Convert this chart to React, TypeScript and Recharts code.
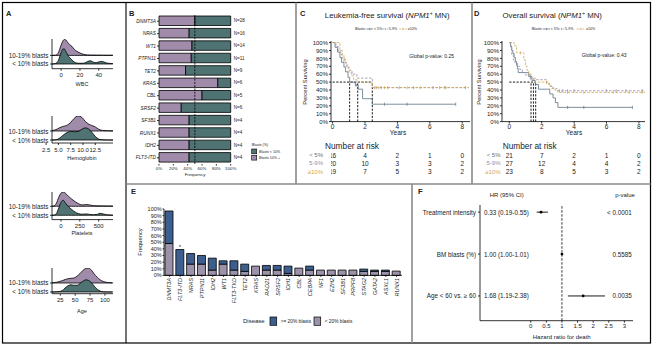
import React from 'react';
import {
  ComposedChart, Area, Line, Scatter, Bar, BarChart, XAxis, YAxis,
  ReferenceLine, LabelList,
} from 'recharts';

const FONT = '"Liberation Sans", Arial, Helvetica, sans-serif';
const INK = '#222';
const A_PURPLE = '#a08bab';
const A_TEAL = '#4e7372';
const KM_LT5 = '#5b7282';
const KM_MID = '#968dae';
const KM_HIGH = '#d1a94f';
const E_BLUE = '#3d5f8f';
const E_PURPLE = '#9d92ab';

// ---------------- Panel A data (ridgelines) ----------------
const ridgeRows = ['< 10% blasts', '10-19% blasts'];

const wbcX = [-9.7, -6, -3, 0, 2, 3.5, 5, 7, 9, 11.5, 14, 17, 20, 24, 28, 31, 33, 36, 39, 42, 45, 49, 55];
const wbcHigh = [0, 0.02, 0.3, 1.2, 1.7, 1.86, 1.8, 1.5, 1.25, 1.05, 0.7, 0.45, 0.28, 0.12, 0.05, 0.04, 0.04, 0.03, 0.03, 0.03, 0.02, 0.02, 0.02];
const wbcLow = [0, 0.06, 0.4, 1.3, 1.75, 1.74, 1.45, 1.05, 0.75, 0.45, 0.22, 0.1, 0.08, 0.09, 0.28, 0.38, 0.3, 0.15, 0.2, 0.3, 0.25, 0.1, 0.05];
const wbcTicks = [0, 20, 40];

const hbX = [3.7, 4.5, 5.2, 6, 6.8, 7.5, 8.2, 9, 9.8, 10.5, 11.2, 11.8, 12.5, 13.2, 14, 15, 16.1];
const hbHigh = [0.05, 0.15, 0.35, 0.52, 0.65, 0.95, 1.4, 1.67, 1.5, 1.05, 0.75, 0.62, 0.45, 0.2, 0.06, 0.03, 0.02];
const hbLow = [0, 0.02, 0.2, 0.55, 0.85, 0.95, 0.92, 0.95, 1.2, 1.35, 1.2, 0.85, 0.4, 0.1, 0.02, 0, 0];
const hbTicks = [2.5, 5, 7.5, 10, 12.5];

const pltX = [-119, -90, -60, -30, 0, 30, 60, 100, 142, 190, 230, 280, 340, 380, 430, 480, 520, 560, 620, 690];
const pltHigh = [0.01, 0.05, 0.35, 1.0, 1.45, 1.59, 1.45, 1.1, 0.8, 0.5, 0.3, 0.15, 0.2, 0.15, 0.07, 0.05, 0.05, 0.04, 0.04, 0.03];
const pltLow = [0, 0.03, 0.2, 0.8, 1.45, 1.67, 1.35, 0.95, 0.65, 0.35, 0.19, 0.12, 0.15, 0.1, 0.07, 0.1, 0.22, 0.15, 0.05, 0.02];
const pltTicks = [0, 250, 500];

const ageX = [11, 20, 28, 33, 38, 43, 48, 53, 58, 63, 68, 72, 77, 82, 87, 92, 97, 105, 113];
const ageHigh = [0.02, 0.1, 0.25, 0.38, 0.48, 0.52, 0.55, 0.75, 1.05, 1.4, 1.62, 1.67, 1.45, 1.0, 0.65, 0.35, 0.18, 0.05, 0.02];
const ageLow = [0, 0.02, 0.15, 0.45, 0.7, 0.8, 0.75, 0.75, 0.95, 1.2, 1.35, 1.3, 1.05, 0.65, 0.3, 0.1, 0.02, 0, 0];
const ageTicks = [25, 50, 75, 100];

// ---------------- Panel B data ----------------
const bGenes = ['DNMT3A', 'NRAS', 'WT1', 'PTPN11', 'TET2', 'KRAS', 'CBL', 'SRSF2', 'SF3B1', 'RUNX1', 'IDH2', 'FLT3-ITD'];
const bN = [28, 16, 14, 11, 9, 6, 5, 6, 4, 4, 4, 4];
const bHigh = [0.5, 0.42, 0.46, 0.45, 0.37, 0.82, 0.6, 0.31, 0.42, 0.42, 0.42, 0.42];
const bLow = [0.5, 0.58, 0.54, 0.55, 0.63, 0.18, 0.4, 0.69, 0.58, 0.58, 0.58, 0.58];
const bTicks = [0, 0.2, 0.4, 0.6, 0.8, 1];

// ---------------- Panels C / D data (Kaplan-Meier) ----------------
const kmYTicks = [0, 10, 20, 30, 40, 50, 60, 70, 80, 90, 100];
const kmXTicks = [0, 2, 4, 6, 8];
const riskTimes = [0, 2, 4, 6, 8];
const riskLabels = ['< 5%', '5-9%', '≥10%'];

const cLt5T = [0, 0.15, 0.3, 0.45, 0.55, 0.7, 0.8, 0.95, 1.05, 1.4, 1.58, 1.85, 2.45, 7.6];
const cLt5S = [100, 94, 88, 81, 75, 69, 63, 56, 50, 46, 41, 29, 22, 22];
const cLt5Cens = [1.45, 3.2, 4.6, 7.6];
const cMidT = [0, 0.2, 0.35, 0.5, 0.6, 0.7, 0.85, 1.0, 1.2, 1.5, 2.45, 8.4];
const cMidS = [100, 95, 90, 85, 80, 75, 70, 65, 60, 55, 43, 43];
const cMidCens = [2.6, 3.0, 3.4, 4.1, 5.0, 6.2, 7.0, 8.2];
const cHighT = [0, 0.45, 0.6, 0.7, 0.8, 0.9, 1.0, 1.15, 1.3, 1.5, 2.45, 8.4];
const cHighS = [100, 90, 84, 79, 74, 68, 63, 58, 53, 50, 43, 43];
const cHighCens = [0.75, 2.7, 2.85, 3.2, 4.6, 5.4, 6.6, 6.9];
const cMedians = [1.05, 1.55, 2.45];
const cRiskLt5 = [16, 4, 2, 1, 0];
const cRiskMid = [20, 10, 3, 3, 2];
const cRiskHigh = [19, 7, 5, 3, 2];

const dLt5T = [0, 0.08, 0.15, 0.22, 0.3, 0.38, 0.45, 0.5, 0.55, 1.2, 1.4, 1.6, 1.8, 2.5, 2.7, 2.85, 3.0, 7.6];
const dLt5S = [100, 95, 90, 86, 81, 76, 71, 67, 62, 57, 52, 47, 41, 35, 30, 24, 18, 18];
const dLt5Cens = [3.6, 4.6, 7.6];
const dMidT = [0, 0.1, 0.15, 0.25, 0.35, 0.5, 0.65, 0.8, 1.0, 1.3, 1.5, 2.3, 2.5, 2.7, 2.95, 8.4];
const dMidS = [100, 93, 85, 78, 74, 70, 66, 62, 59, 55, 53, 48, 45, 42, 39, 39];
const dMidCens = [1.3, 3.1, 3.3, 3.6, 4.0, 6.0, 6.6, 7.2, 8.2];
const dHighT = [0, 0.3, 0.45, 0.9, 1.0, 1.1, 1.2, 1.35, 1.6, 2.45, 2.6, 2.8, 3.0, 8.4];
const dHighS = [100, 96, 87, 78, 70, 65, 60, 55, 50, 45, 42, 40, 37, 37];
const dHighCens = [0.7, 2.3, 3.6, 4.6, 6.4, 7.4, 8.2];
const dMedians = [1.34, 1.49, 1.63];
const dRiskLt5 = [21, 7, 2, 1, 0];
const dRiskMid = [27, 12, 4, 4, 2];
const dRiskHigh = [23, 8, 5, 3, 2];

// ---------------- Panel E data ----------------
const eGenes = ['DNMT3A', 'FLT3-ITD', 'NRAS', 'PTPN11', 'IDH2', 'WT1', 'FLT3-TKD', 'TET2', 'KRAS', 'RAD21', 'SRSF2', 'IDH1', 'CBL', 'CEBPA', 'NF1', 'EZH2', 'SF3B1', 'PRPF8', 'STAG2', 'GATA2', 'ASXL1', 'RUNX1'];
const eLt20 = [48, 0, 17, 17, 8, 17, 8, 6, 14, 8, 8, 3, 11, 8, 8, 8, 8, 8, 6, 6, 6, 6.5];
const eGe20 = [49, 39, 16, 13, 18, 5, 14, 11, 0, 7, 7, 11, 0, 6, 0, 0, 0, 0, 3.5, 2, 2, 0];
const eSig = ['', '*', '', '', '', '', '', '', '', '', '', '', '', '', '', '', '', '', '', '', '', ''];
const eTicks = [0, 10, 20, 30, 40, 50, 60, 70, 80, 90, 100];

// ---------------- Panel F data ----------------
const fVars = ['Treatment intensity', 'BM blasts (%)', 'Age < 60 vs. ≥ 60'];
const fHR = [0.33, 1.0, 1.68];
const fLo = [0.19, 1.0, 1.19];
const fHi = [0.55, 1.01, 2.38];
const fHRText = ['0.33 (0.19-0.55)', '1.00 (1.00-1.01)', '1.68 (1.19-2.38)'];
const fP = ['< 0.0001', '0.5585', '0.0035'];
const fTicks = [0, 0.5, 1, 1.5, 2, 2.5, 3];

const axisStroke = { stroke: '#000', strokeWidth: 0.8 };

// ---------------- Components ----------------
const RidgeTick = (p: any) => (
  <text x={p.x} y={p.y} textAnchor="end" dominantBaseline="central" fontSize={6.3} fill={INK} fontFamily={FONT}>
    {ridgeRows[p.payload.value]}
  </text>
);

function Ridge(props: any) {
  const { top, plotH, yDomain, xDomain, ticks, fmt, xs, hi, lo } = props;
  const data = xs.map((x: number, i: number) => ({ x, hi: [1, 1 + hi[i]], lo: [0, lo[i]] }));
  const H = plotH + 14;
  return (
    <div style={{ position: 'absolute', left: 0, top, width: 114, height: H }}>
      <ComposedChart width={114} height={H} data={data} margin={{ top: 0, right: 1, left: 0, bottom: 0 }}>
        <XAxis dataKey="x" type="number" domain={xDomain} allowDataOverflow ticks={ticks} interval={0}
          tickFormatter={fmt} height={14} tickSize={2} tickMargin={2.5}
          tick={{ fontSize: 6, fill: INK, fontFamily: FONT }} axisLine={axisStroke} tickLine={axisStroke} />
        <YAxis type="number" domain={yDomain} allowDataOverflow ticks={[0, 1]} interval={0}
          width={52} tickSize={2} tickMargin={1.5}
          tick={RidgeTick} axisLine={axisStroke} tickLine={axisStroke} />
        <Area type="monotone" dataKey="hi" stroke="#000" strokeWidth={0.8} fill={A_PURPLE} fillOpacity={1}
          isAnimationActive={false} dot={false} activeDot={false} />
        <Area type="monotone" dataKey="lo" stroke="#000" strokeWidth={0.8} fill={A_TEAL} fillOpacity={1}
          isAnimationActive={false} dot={false} activeDot={false} />
      </ComposedChart>
    </div>
  );
}

function stepAt(ts: number[], ss: number[], t: number) {
  let v = ss[0];
  for (let i = 0; i < ts.length; i++) if (ts[i] <= t) v = ss[i];
  return v;
}

const CensorMark = (p: any) => (
  <line x1={p.cx} x2={p.cx} y1={p.cy - 1.6} y2={p.cy + 1.6} stroke={p.fill} strokeWidth={0.7} />
);

function KMChart(props: any) {
  const { plotLeft, plotW, xDomain, curves, medians } = props;
  const YW = 26;
  const W = YW + plotW;
  const H = 80.6 + 10;
  const maxMed = Math.max(...medians);
  return (
    <div style={{ position: 'absolute', left: plotLeft - YW, top: 41.1, width: W, height: H }}>
      <ComposedChart width={W} height={H} margin={{ top: 0, right: 0, left: 0, bottom: 0 }}>
        <XAxis dataKey="t" type="number" domain={xDomain} allowDataOverflow ticks={kmXTicks} interval={0}
          height={10} tickSize={2} tickMargin={0.5} tick={{ fontSize: 6.5, fill: INK, fontFamily: FONT }}
          axisLine={axisStroke} tickLine={axisStroke} />
        <YAxis dataKey="s" type="number" domain={[0, 102]} allowDataOverflow ticks={kmYTicks} interval={0}
          tickFormatter={(v: number) => v + '%'} width={YW} tickSize={2} tickMargin={1}
          tick={{ fontSize: 6, fill: INK, fontFamily: FONT }} axisLine={axisStroke} tickLine={axisStroke} />
        <ReferenceLine segment={[{ x: 0, y: 50 }, { x: maxMed, y: 50 }]} stroke="#000" strokeWidth={0.9} strokeDasharray="2.2 1.4" />
        {medians.map((m: number, i: number) => (
          <ReferenceLine key={'m' + i} segment={[{ x: m, y: 0 }, { x: m, y: 50 }]} stroke="#000" strokeWidth={0.9} strokeDasharray="2.2 1.4" />
        ))}
        {curves.map((c: any, i: number) => (
          <Line key={'l' + i} data={c.t.map((t: number, j: number) => ({ t, s: c.s[j] }))} dataKey="s" type="stepAfter"
            stroke={c.color} strokeWidth={0.8} strokeDasharray={c.dash} dot={false} activeDot={false}
            isAnimationActive={false} />
        ))}
        {curves.map((c: any, i: number) => (
          <Scatter key={'c' + i} data={c.cens.map((t: number) => ({ t, s: stepAt(c.t, c.s, t) }))} fill={c.color}
            shape={CensorMark} isAnimationActive={false} />
        ))}
      </ComposedChart>
    </div>
  );
}

function RiskTable(props: any) {
  const { plotLeft, plotW, xDomain, rows, labelOffset } = props;
  const YW = 26;
  const W = YW + plotW;
  const data: any[] = [];
  rows.forEach((r: any, ri: number) => riskTimes.forEach((t, i) => data.push({ t, row: 3 - ri, n: r.n[i] })));
  const tick = (p: any) => {
    const r = rows[3 - p.payload.value];
    return (
      <text x={p.x} y={p.y} textAnchor="end" dominantBaseline="central" fontSize={6} fill={r.color} fontFamily={FONT}>{r.label}</text>
    );
  };
  const shape = (p: any) => (
    <text x={p.cx} y={p.cy} textAnchor="middle" dominantBaseline="central" fontSize={6.5} fill={INK} fontFamily={FONT}>{p.payload.n}</text>
  );
  return (
    <div style={{ position: 'absolute', left: plotLeft - YW, top: 151, width: W, height: 25 }}>
      <ComposedChart width={W} height={25} margin={{ top: 0, right: 0, left: 0, bottom: 0 }}>
        <XAxis dataKey="t" type="number" domain={xDomain} allowDataOverflow hide />
        <YAxis dataKey="row" type="number" domain={[0.5, 3.5]} ticks={[1, 2, 3]} interval={0} width={YW}
          axisLine={false} tickLine={false} tickSize={0} tickMargin={labelOffset} tick={tick} />
        <Scatter data={data} shape={shape} isAnimationActive={false} />
      </ComposedChart>
    </div>
  );
}

function KMLegend({ x0, y, pos }: any) {
  const fs = 3.6;
  const items = [
    { a: pos[1], b: pos[2], tx: pos[3], color: KM_LT5, dash: undefined, label: riskLabels[0] },
    { a: pos[4], b: pos[5], tx: pos[6], color: KM_MID, dash: '1.5 0.8', label: riskLabels[1] },
    { a: pos[7], b: pos[8], tx: pos[9], color: KM_HIGH, dash: '1.8 1', label: riskLabels[2] },
  ];
  return (
    <g>
      <text x={x0} y={y} fontSize={fs} fill={INK} dominantBaseline="central" fontFamily={FONT}>Blasts:</text>
      {items.map((it, i) => (
        <g key={i}>
          <line x1={it.a} x2={it.b} y1={y} y2={y} stroke={it.color} strokeWidth={0.8} strokeDasharray={it.dash} />
          <line x1={(it.a + it.b) / 2} x2={(it.a + it.b) / 2} y1={y - 1.2} y2={y + 1.2} stroke={it.color} strokeWidth={0.6} />
          <text x={it.tx} y={y} fontSize={fs} fill={INK} dominantBaseline="central" fontFamily={FONT}>{it.label}</text>
        </g>
      ))}
    </g>
  );
}

const GeneTickE = (p: any) => (
  <text transform={`translate(${p.x},${p.y}) rotate(-90)`} textAnchor="end" dominantBaseline="central"
    fontSize={5.5} fontStyle="italic" fill={INK} fontFamily={FONT}>{p.payload.value}</text>
);

function FTick(p: any) {
  const i = 3 - p.payload.value;
  const axisX = p.x + 4;
  return (
    <g fontFamily={FONT} fontSize={6.3} fill={INK}>
      <text x={axisX - 4} y={p.y} textAnchor="end" dominantBaseline="central">{fVars[i]}</text>
      <text x={axisX + 4} y={p.y} textAnchor="start" dominantBaseline="central">{fHRText[i]}</text>
      <text x={axisX + 151.7} y={p.y} textAnchor="end" dominantBaseline="central">{fP[i]}</text>
    </g>
  );
}

const FDot = (p: any) => <circle cx={p.cx} cy={p.cy} r={1.4} fill="#000" />;

export default function App() {
  const bData = bGenes.map((g, i) => ({ gene: g, high: bHigh[i], low: bLow[i], nLab: 'N=' + bN[i] }));
  const eData = eGenes.map((g, i) => ({ gene: g, lt: eLt20[i], ge: eGe20[i], sig: eSig[i] }));
  const fData = fHR.map((h, i) => ({ hr: h, row: 3 - i }));

  const cCurves = [
    { t: cLt5T, s: cLt5S, cens: cLt5Cens, color: KM_LT5, dash: undefined },
    { t: cMidT, s: cMidS, cens: cMidCens, color: KM_MID, dash: '2.5 1.5' },
    { t: cHighT, s: cHighS, cens: cHighCens, color: KM_HIGH, dash: '2.5 1.5' },
  ];
  const dCurves = [
    { t: dLt5T, s: dLt5S, cens: dLt5Cens, color: KM_LT5, dash: undefined },
    { t: dMidT, s: dMidS, cens: dMidCens, color: KM_MID, dash: '2.5 1.5' },
    { t: dHighT, s: dHighS, cens: dHighCens, color: KM_HIGH, dash: '2.5 1.5' },
  ];
  const rowColors = [KM_LT5, KM_MID, KM_HIGH];
  const cRows = [cRiskLt5, cRiskMid, cRiskHigh].map((n, i) => ({ n, label: riskLabels[i], color: rowColors[i] }));
  const dRows = [dRiskLt5, dRiskMid, dRiskHigh].map((n, i) => ({ n, label: riskLabels[i], color: rowColors[i] }));

  const txt = { fontFamily: FONT, fill: INK } as any;
  const title = (x: number, main: string) => (
    <text x={x} y={15} textAnchor="middle" dominantBaseline="central" fontSize={7.8} {...txt}>
      <tspan>{main} (</tspan>
      <tspan fontStyle="italic">NPM1</tspan>
      <tspan fontSize={5} dy={-2.5}>+</tspan>
      <tspan dy={2.5}> MN)</tspan>
    </text>
  );

  return (
    <div style={{ position: 'fixed', left: 0, top: 0, width: 654, height: 359, background: '#fff', overflow: 'hidden' }}>
      <svg width={654} height={359} style={{ position: 'absolute', left: 0, top: 0 }}>
        <rect x={2.5} y={2.5} width={648} height={340.5} fill="none" stroke="#000" strokeWidth={1.2} />
        <line x1={126} x2={126} y1={2.5} y2={343} stroke="#000" strokeWidth={1.1} />
        <line x1={296} x2={296} y1={2.5} y2={184} stroke="#8a8a8a" strokeWidth={1.6} />
        <line x1={472} x2={472} y1={2.5} y2={184} stroke="#8a8a8a" strokeWidth={1.6} />
        <line x1={126} x2={650.5} y1={184} y2={184} stroke="#8a8a8a" strokeWidth={1.6} />
        <line x1={412} x2={412} y1={184} y2={343} stroke="#8a8a8a" strokeWidth={1.6} />
        {[['A', 6, 13], ['B', 129, 13], ['C', 300, 13], ['D', 474, 13], ['E', 131, 191], ['F', 418, 191]].map((l: any) => (
          <text key={l[0]} x={l[1]} y={l[2]} fontSize={7.5} fontWeight="bold" dominantBaseline="central" {...txt}>{l[0]}</text>
        ))}
        <text x={82} y={84} textAnchor="middle" dominantBaseline="central" fontSize={5.5} {...txt}>WBC</text>
        <text x={82} y={158.3} textAnchor="middle" dominantBaseline="central" fontSize={5.5} {...txt}>Hemoglobin</text>
        <text x={82} y={232.7} textAnchor="middle" dominantBaseline="central" fontSize={5.5} {...txt}>Platelets</text>
        <text x={82} y={311} textAnchor="middle" dominantBaseline="central" fontSize={5.5} {...txt}>Age</text>
        <text x={195} y={174} textAnchor="middle" dominantBaseline="central" fontSize={4.4} {...txt}>Frequency</text>
        <text x={251.7} y={145} dominantBaseline="central" fontSize={3.6} {...txt}>Blasts (%)</text>
        <rect x={251.7} y={149} width={5} height={4.8} fill={A_TEAL} stroke="#000" strokeWidth={0.6} />
        <text x={259} y={151.5} dominantBaseline="central" fontSize={3.6} {...txt}>Blasts &lt; 10%</text>
        <rect x={251.7} y={155.3} width={5} height={4.8} fill={A_PURPLE} stroke="#000" strokeWidth={0.6} />
        <text x={259} y={157.8} dominantBaseline="central" fontSize={3.6} {...txt}>Blasts 10% +</text>
        {title(387.2, 'Leukemia-free survival')}
        <KMLegend x0={355} y={29} pos={[355, 366.5, 373, 374, 382.5, 388, 388.7, 399.3, 406.7, 407.7]} />
        <text x={409.3} y={56} dominantBaseline="central" fontSize={5} {...txt}>Global p-value: 0.25</text>
        <text transform="translate(305,82) rotate(-90)" textAnchor="middle" dominantBaseline="central" fontSize={5.8} {...txt}>Percent Surviving</text>
        <text x={398} y={132.5} textAnchor="middle" dominantBaseline="central" fontSize={6.5} {...txt}>Years</text>
        <text x={325} y={146} dominantBaseline="central" fontSize={8.3} {...txt}>Number at risk</text>
        {title(552.2, 'Overall survival')}
        <KMLegend x0={531.7} y={29} pos={[531.7, 543, 550, 550.7, 558.7, 564.3, 565, 576.7, 585, 586]} />
        <text x={581.7} y={55} dominantBaseline="central" fontSize={5} {...txt}>Global p-value: 0.43</text>
        <text transform="translate(479,82) rotate(-90)" textAnchor="middle" dominantBaseline="central" fontSize={5.8} {...txt}>Percent Surviving</text>
        <text x={574} y={132.5} textAnchor="middle" dominantBaseline="central" fontSize={6.5} {...txt}>Years</text>
        <text x={502.7} y={146} dominantBaseline="central" fontSize={8.3} {...txt}>Number at risk</text>
        <text transform="translate(140,242) rotate(-90)" textAnchor="middle" dominantBaseline="central" fontSize={5.8} {...txt}>Frequency</text>
        <text x={243} y={321} dominantBaseline="central" fontSize={6} {...txt}>Disease</text>
        <rect x={270} y={317} width={6.7} height={8.3} fill={E_BLUE} stroke="#000" strokeWidth={0.7} />
        <text x={280.7} y={321} dominantBaseline="central" fontSize={4.8} {...txt}>&gt;= 20% blasts</text>
        <rect x={314} y={317} width={6.7} height={8.3} fill={E_PURPLE} stroke="#000" strokeWidth={0.7} />
        <text x={324.7} y={321} dominantBaseline="central" fontSize={4.8} {...txt}>&lt; 20% blasts</text>
        <text x={506.7} y={195} textAnchor="middle" dominantBaseline="central" fontSize={6} {...txt}>HR (95% CI)</text>
        <text x={625} y={195} textAnchor="middle" dominantBaseline="central" fontSize={6} {...txt}>p-value</text>
        <text x={561.7} y={337.3} textAnchor="middle" dominantBaseline="central" fontSize={6} {...txt}>Hazard ratio for death</text>
      </svg>

      <Ridge top={39.3} plotH={29.7} yDomain={[-0.547, 2.907]} xDomain={[-9.7, 55.1]} ticks={wbcTicks}
        fmt={(v: number) => String(v)} xs={wbcX} hi={wbcHigh} lo={wbcLow} />
      <Ridge top={115.7} plotH={27} yDomain={[-0.333, 2.667]} xDomain={[3.7, 16.1]} ticks={hbTicks}
        fmt={(v: number) => v.toFixed(1)} xs={hbX} hi={hbHigh} lo={hbLow} />
      <Ridge top={191.7} plotH={27.6} yDomain={[-0.478, 2.589]} xDomain={[-119, 690]} ticks={pltTicks}
        fmt={(v: number) => String(v)} xs={pltX} hi={pltHigh} lo={pltLow} />
      <Ridge top={268.3} plotH={25.7} yDomain={[-0.189, 2.667]} xDomain={[11, 113.5]} ticks={ageTicks}
        fmt={(v: number) => String(v)} xs={ageX} hi={ageHigh} lo={ageLow} />

      <div style={{ position: 'absolute', left: 119.3, top: 15.1, width: 138, height: 159 }}>
        <BarChart layout="vertical" width={138} height={159} data={bData} barSize={9.5}
          margin={{ top: 0, right: 26.3, left: 0, bottom: 0 }}>
          <XAxis type="number" domain={[0, 1]} ticks={bTicks} interval={0} height={10}
            tickFormatter={(v: number) => Math.round(v * 100) + '%'} axisLine={false} tickSize={1.5} tickMargin={1}
            tick={{ fontSize: 4.4, fill: INK, fontFamily: FONT }} tickLine={axisStroke} />
          <YAxis type="category" dataKey="gene" width={40} interval={0} axisLine={false} tickSize={2} tickMargin={1}
            tick={{ fontSize: 4.8, fill: INK, fontFamily: FONT, fontStyle: 'italic' }} tickLine={axisStroke} />
          <Bar dataKey="high" stackId="a" fill={A_PURPLE} stroke="#000" strokeWidth={0.8} isAnimationActive={false} />
          <Bar dataKey="low" stackId="a" fill={A_TEAL} stroke="#000" strokeWidth={0.8} isAnimationActive={false}>
            <LabelList dataKey="nLab" position="right" offset={3}
              style={{ fontSize: 4.6, fill: INK, fontFamily: FONT }} />
          </Bar>
          <ReferenceLine x={0.5} stroke="#000" strokeWidth={0.8} strokeDasharray="2 1.2" />
        </BarChart>
      </div>

      <KMChart plotLeft={331.1} plotW={139.3} xDomain={[-0.1, 8.5]} curves={cCurves} medians={cMedians} />
      <RiskTable plotLeft={331.1} plotW={139.3} xDomain={[-0.1, 8.5]} rows={cRows} labelOffset={8} />

      <KMChart plotLeft={502} plotW={143.4} xDomain={[-0.45, 8.4]} curves={dCurves} medians={dMedians} />
      <RiskTable plotLeft={502} plotW={143.4} xDomain={[-0.45, 8.4]} rows={dRows} labelOffset={1.5} />

      <div style={{ position: 'absolute', left: 144, top: 207.3, width: 258, height: 102 }}>
        <BarChart width={258} height={102} data={eData} barSize={8} margin={{ top: 2, right: 0, left: 0, bottom: 0 }}>
          <XAxis dataKey="gene" type="category" interval={0} height={33.6} tick={GeneTickE} tickSize={1.5} tickMargin={1}
            axisLine={axisStroke} tickLine={axisStroke} />
          <YAxis type="number" domain={[0, 100]} ticks={eTicks} interval={0} width={20}
            tickFormatter={(v: number) => v + '%'} tickSize={1.5} tickMargin={0.8}
            tick={{ fontSize: 5.5, fill: INK, fontFamily: FONT }} axisLine={axisStroke} tickLine={axisStroke} />
          <Bar dataKey="lt" stackId="s" fill={E_PURPLE} stroke="#000" strokeWidth={0.8} isAnimationActive={false} />
          <Bar dataKey="ge" stackId="s" fill={E_BLUE} stroke="#000" strokeWidth={0.8} isAnimationActive={false}>
            <LabelList dataKey="sig" position="top" offset={1} style={{ fontSize: 6, fill: INK, fontFamily: FONT }} />
          </Bar>
        </BarChart>
      </div>

      <div style={{ position: 'absolute', left: 410, top: 205, width: 223, height: 128 }}>
        <ComposedChart width={223} height={128} margin={{ top: 0, right: 0, left: 0, bottom: 0 }}>
          <XAxis dataKey="hr" type="number" domain={[-1.625, 3.276]} allowDataOverflow ticks={fTicks} interval={0}
            height={12.3} tickSize={2} tickMargin={0.8} tick={{ fontSize: 6, fill: INK, fontFamily: FONT }}
            axisLine={axisStroke} tickLine={axisStroke} />
          <YAxis dataKey="row" type="number" domain={[0.41, 3.17]} allowDataOverflow ticks={[1, 2, 3]} interval={0}
            width={70} tickSize={2} tickMargin={2} tick={FTick} axisLine={axisStroke} tickLine={axisStroke} />
          <ReferenceLine x={1} stroke="#000" strokeWidth={0.8} strokeDasharray="2.5 1.5" />
          {fHR.map((h, i) => (
            <ReferenceLine key={i} segment={[{ x: fLo[i], y: 3 - i }, { x: fHi[i], y: 3 - i }]} stroke="#000" strokeWidth={0.9} />
          ))}
          <Scatter data={fData} shape={FDot} isAnimationActive={false} />
        </ComposedChart>
      </div>
    </div>
  );
}
